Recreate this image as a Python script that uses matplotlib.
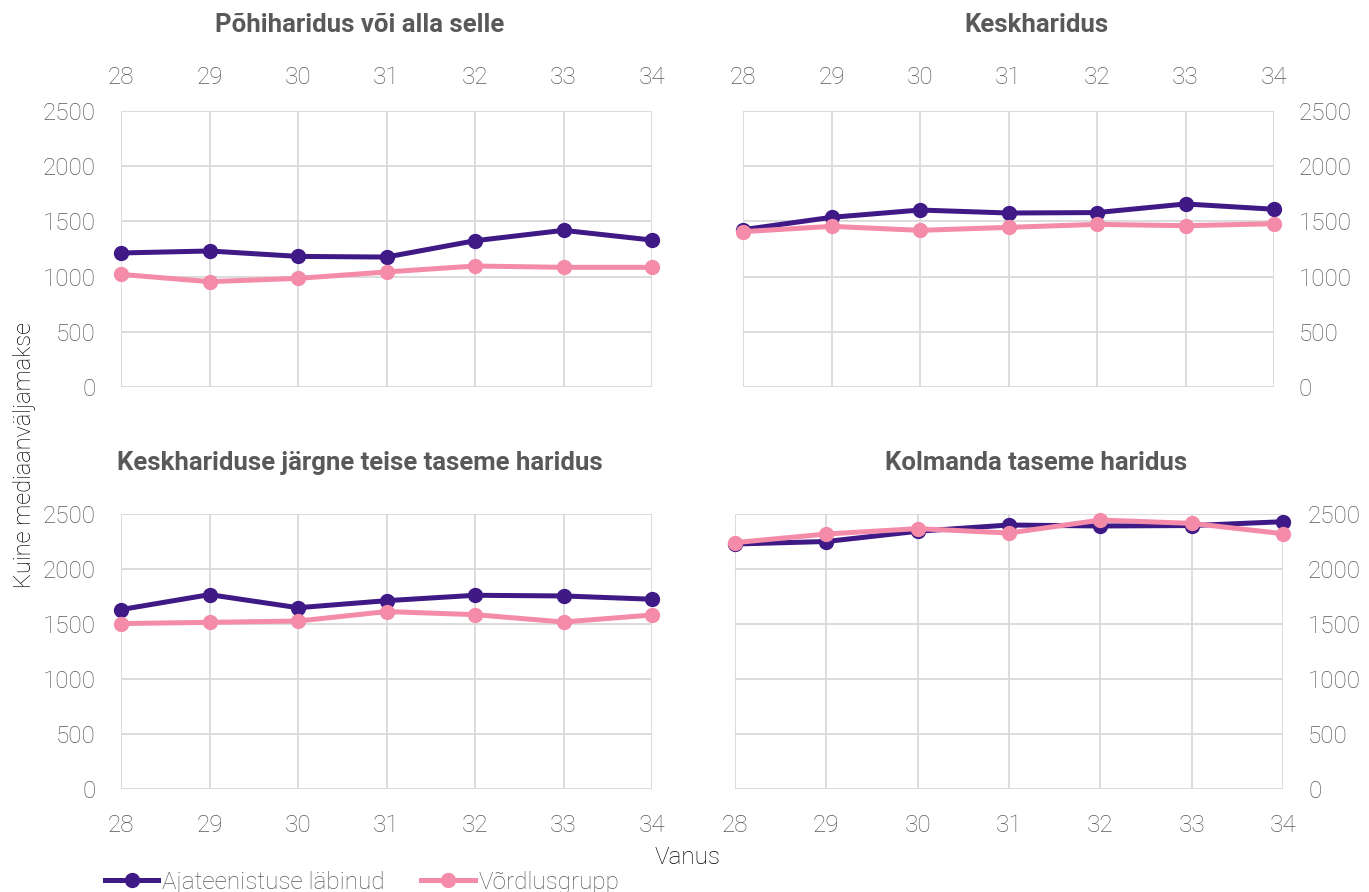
import matplotlib
matplotlib.use("Agg")
import matplotlib.pyplot as plt
from matplotlib.lines import Line2D

plt.rcParams['font.family'] = ['Roboto', 'DejaVu Sans']

ages = [28, 29, 30, 31, 32, 33, 34]
titles = ["Põhiharidus või alla selle", "Keskharidus",
          "Keskhariduse järgne teise taseme haridus", "Kolmanda taseme haridus"]
series_names = ["Ajateenistuse läbinud", "Võrdlusgrupp"]

ajateenistus = [
    [1214, 1232, 1183, 1177, 1325, 1419, 1331],
    [1425, 1537, 1603, 1576, 1580, 1658, 1610],
    [1631, 1767, 1648, 1712, 1761, 1755, 1725],
    [2227, 2250, 2343, 2400, 2391, 2395, 2430],
]
vordlus = [
    [1020, 954, 984, 1042, 1096, 1084, 1084],
    [1407, 1455, 1419, 1446, 1473, 1461, 1479],
    [1504, 1515, 1527, 1613, 1585, 1518, 1582],
    [2240, 2318, 2367, 2327, 2445, 2415, 2321],
]
yticks = [0, 500, 1000, 1500, 2000, 2500]

PURPLE = '#3F1A87'
PINK = '#F48CA9'
GRID = '#D9D9D9'
TXT = '#595959'

W, H = 1369, 892
fig = plt.figure(figsize=(W / 100, H / 100), dpi=100)

def rect(x0, x1, ytop, ybot):
    return [x0 / W, 1 - ybot / H, (x1 - x0) / W, (ybot - ytop) / H]

rects = [rect(121, 652, 111, 387), rect(743, 1274, 111, 387),
         rect(121, 652, 514, 789), rect(735, 1283, 514, 789)]
title_pos = [(360, 25), (1036, 25), (360, 463), (1036, 463)]

for i, r in enumerate(rects):
    ax = fig.add_axes(r)
    ax.plot(ages, vordlus[i], color=PINK, lw=3.6, marker='o', ms=10, clip_on=False, zorder=3)
    ax.plot(ages, ajateenistus[i], color=PURPLE, lw=3.6, marker='o', ms=10, clip_on=False, zorder=2)
    ax.set_xlim(28, 34)
    ax.set_ylim(0, 2500)
    ax.set_xticks(ages)
    ax.set_yticks(yticks)
    ax.grid(True, color=GRID, lw=1.3)
    ax.set_axisbelow(True)
    for s in ax.spines.values():
        s.set_visible(False)
    top = i < 2
    right = i % 2 == 1
    ax.tick_params(axis='both', length=0, labelsize=17.5, labelcolor=TXT,
                   top=False, bottom=False, labeltop=top, labelbottom=not top,
                   labelleft=not right, labelright=right)
    ax.tick_params(axis='y', pad=18)
    ax.tick_params(axis='x', pad=16 if top else 18)
    for lab in ax.get_xticklabels() + ax.get_yticklabels():
        lab.set_fontweight('light')
    tx, ty = title_pos[i]
    fig.text(tx / W, 1 - ty / H, titles[i], ha='center', va='center',
             fontsize=18.5, fontweight='bold', color=TXT)

fig.text(25 / W, 1 - 455 / H, "Kuine mediaanväljamakse", rotation=90, ha='center',
         va='center', fontsize=17, fontweight='light', color='black')
fig.text(688 / W, 1 - 858 / H, "Vanus", ha='center', va='center', fontsize=17.5,
         fontweight='light', color='black')

handles = [Line2D([], [], color=PURPLE, lw=3.6, marker='o', ms=10),
           Line2D([], [], color=PINK, lw=3.6, marker='o', ms=10)]
leg = fig.legend(handles, series_names, loc='center left', bbox_to_anchor=(105 / W, 1 - 882 / H),
                 ncol=2, frameon=False, handlelength=2.2, handletextpad=0.15, columnspacing=1.5,
                 prop={'size': 17.5, 'weight': 'light'}, borderaxespad=0, borderpad=0)
for t in leg.get_texts():
    t.set_color(TXT)

fig.savefig('out.png', dpi=100)
